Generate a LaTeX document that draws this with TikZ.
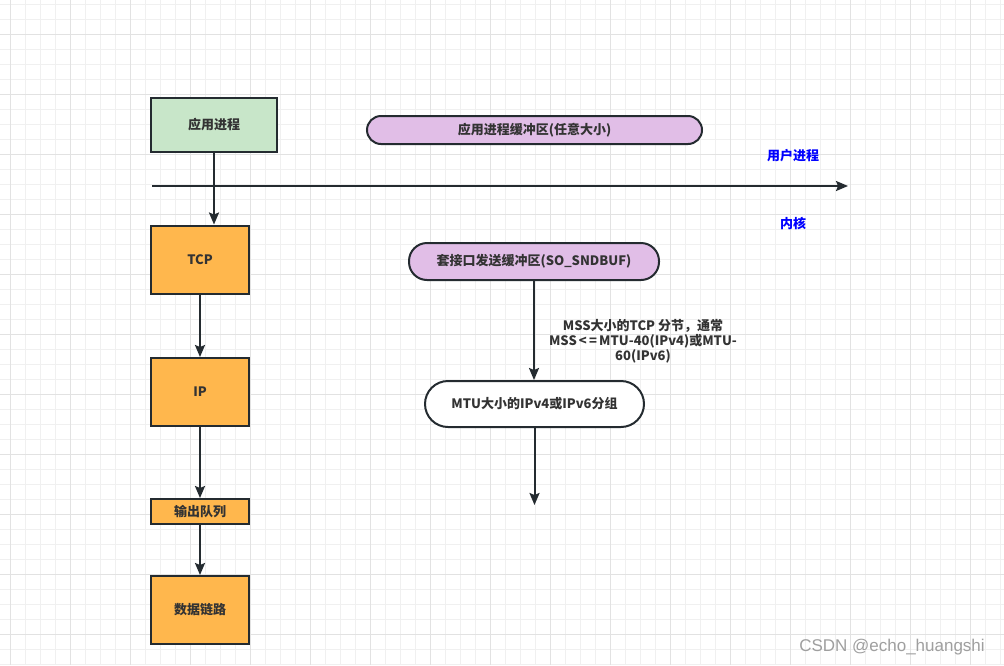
\documentclass[tikz,border=0pt]{standalone}
\usepackage{fontspec}
\newfontfamily\cjk{Noto Sans CJK SC}
\newfontfamily\wmfont{Liberation Sans}
\usetikzlibrary{arrows.meta}
\definecolor{boxgreen}{HTML}{C8E6C9}
\definecolor{boxorange}{HTML}{FFB74D}
\definecolor{boxpurple}{HTML}{E1BEE7}
\definecolor{edgecol}{HTML}{242B30}
\definecolor{textcol}{HTML}{333333}
\definecolor{gridminor}{HTML}{F0F0F0}
\definecolor{gridmajor}{HTML}{E2E2E2}
\newcommand{\boxfont}{\cjk\bfseries\fontsize{13}{15}\selectfont}
\tikzset{
  layerbox/.style={draw=edgecol, line width=2pt, fill=boxorange, minimum width=98pt,
    minimum height=68pt, inner sep=0pt, font=\boxfont, text=textcol},
  bufbox/.style={draw=edgecol, line width=2pt, fill=boxpurple, inner sep=0pt,
    font=\boxfont, text=textcol},
  flow/.style={draw=edgecol, line width=2pt, -{Stealth[length=12pt,width=10pt,inset=2pt]}},
  sidelabel/.style={text=blue, font=\boxfont}
}

\begin{document}
\begin{tikzpicture}[x=1pt,y=-1pt]
\useasboundingbox (0,0) rectangle (1004,665);
\fill[white] (0,0) rectangle (1004,665);
% background grid
\foreach \gx in {10,25,...,1004} \draw[gridminor, line width=1pt] (\gx,0) -- (\gx,665);
\foreach \gy in {4,19,...,665} \draw[gridminor, line width=1pt] (0,\gy) -- (1004,\gy);
\foreach \gx in {10,70,...,1004} \draw[gridmajor, line width=1pt] (\gx,0) -- (\gx,665);
\foreach \gy in {34,94,...,665} \draw[gridmajor, line width=1pt] (0,\gy) -- (1004,\gy);

% left column: protocol stack
\node[layerbox, fill=boxgreen, minimum width=126pt, minimum height=54pt] (app) at (214,125) {应用进程};
\node[layerbox] (tcp) at (200,259.5) {TCP};
\node[layerbox] (ip) at (200,392) {IP};
\node[layerbox, minimum height=25pt] (outq) at (200,511.5) {输出队列};
\node[layerbox] (link) at (200,610) {数据链路};

% user / kernel boundary
\coordinate (axisL) at (152,186);
\coordinate (axisR) at (848,186);
\draw[flow] (axisL) -- (axisR);
\node[sidelabel] (user) at (793,156) {用户进程};
\node[sidelabel] (kernel) at (793,223) {内核};

% buffers
\node[bufbox, minimum width=335pt, minimum height=28pt, rounded corners=14pt] (appbuf) at (534.5,130) {应用进程缓冲区(任意大小)};
\node[bufbox, minimum width=250pt, minimum height=37pt, rounded corners=18pt] (sockbuf) at (534,261.5) {套接口发送缓冲区(SO\_SNDBUF)};
\node[bufbox, fill=white, minimum width=219pt, minimum height=46pt, rounded corners=23pt] (mtu) at (534.5,404) {MTU大小的IPv4或IPv6分组};
\node[text=textcol, font=\boxfont, align=center] (mss) at (643,341)
  {MSS大小的TCP 分节，通常\\MSS\,<\,=\,MTU-40(IPv4)或MTU-\\60(IPv6)};
\coordinate (out) at (534.5,505);

% connectors
\draw[flow] (app.south) -- (app.south |- tcp.north);
\draw[flow] (tcp) -- (ip);
\draw[flow] (ip) -- (outq);
\draw[flow] (outq) -- (link);
\draw[flow] (sockbuf.south) -- (sockbuf.south |- mtu.north);
\draw[flow] (mtu) -- (out);

\node[text=gray!75, font=\wmfont\fontsize{17}{19}\selectfont] (mark) at (892,647) {CSDN @echo\_huangshi};
\end{tikzpicture}
\end{document}
